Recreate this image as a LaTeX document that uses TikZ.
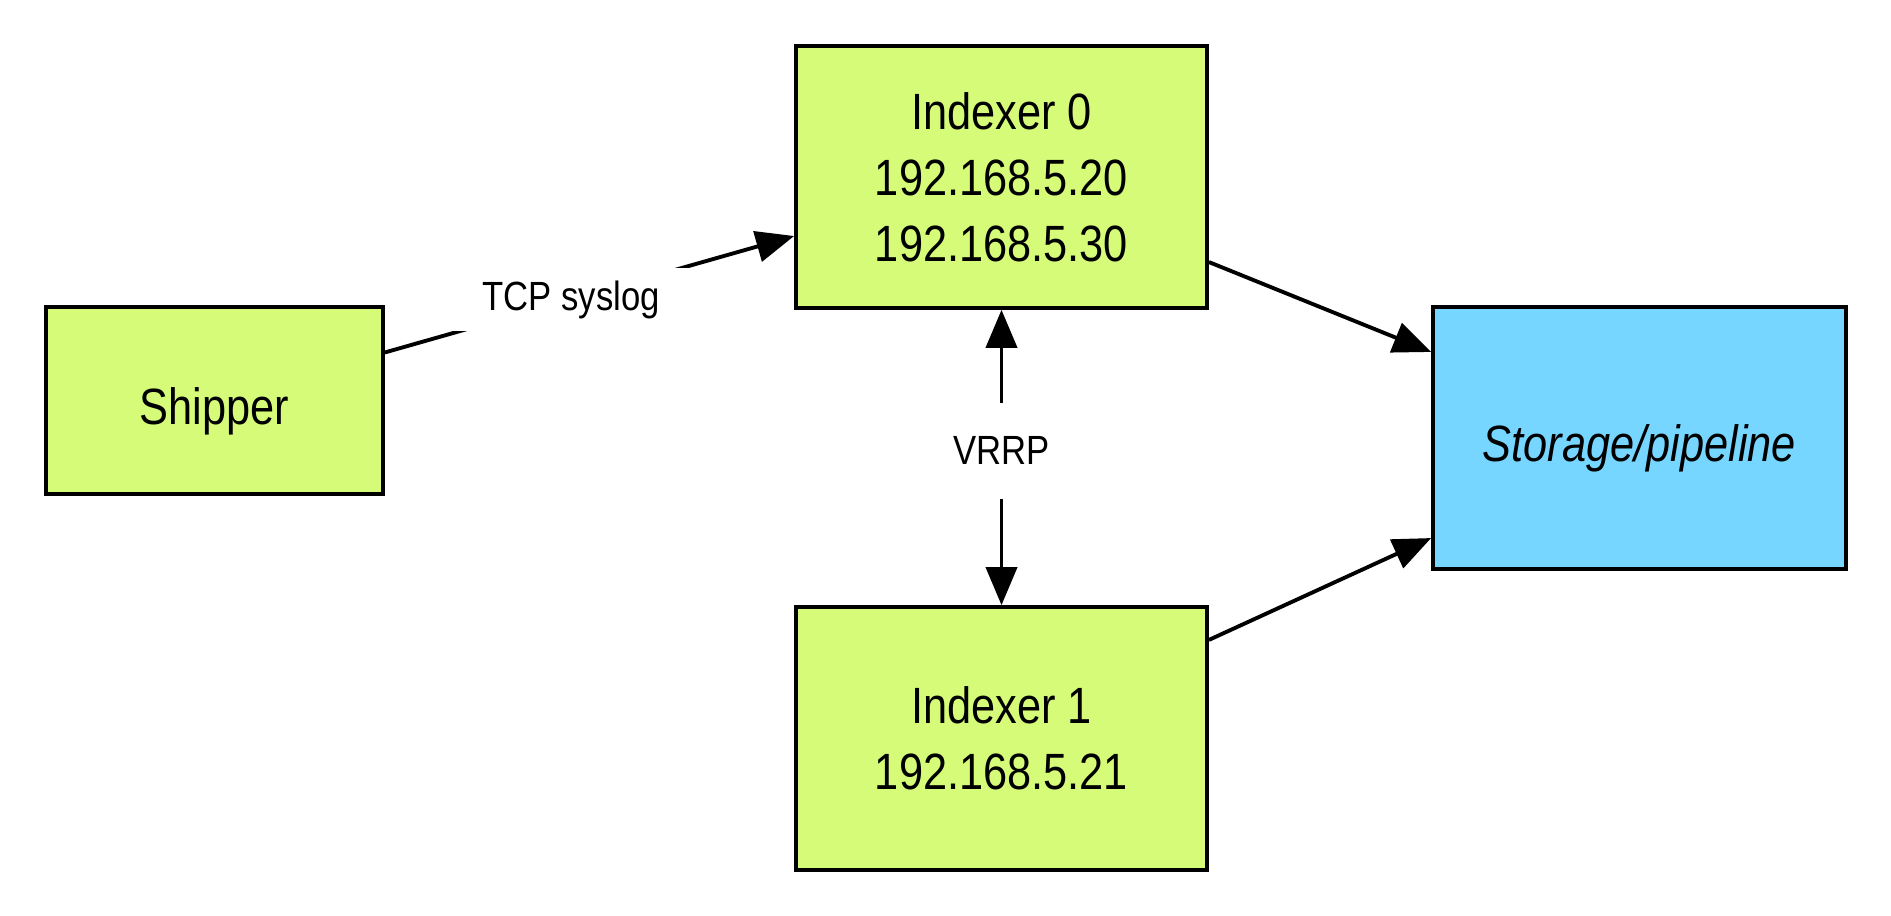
\documentclass[tikz,border=0pt]{standalone}
\usepackage{fontspec}
\setmainfont{Liberation Sans}[FakeStretch=0.85]
\usetikzlibrary{arrows.meta}
\definecolor{boxgreen}{HTML}{D5FB79}
\definecolor{boxblue}{HTML}{76D6FF}
\tikzset{
  box/.style={draw=black, line width=1.0pt, fill=boxgreen,
    font=\fontsize{14.5}{18.8}\selectfont, inner sep=0pt},
  oneline/.style={text height=0.5cm, text depth=0.03cm},
  tip/.tip={Triangle[length=0.38cm,width=0.31cm]},
  conn/.style={line width=1.1pt, -tip},
  lbl/.style={fill=white, font=\fontsize{11.6}{13}\selectfont, inner xsep=0.3cm, inner ysep=0.125cm},
}
\begin{document}
\begin{tikzpicture}[x=0.01cm,y=-0.01cm]
\useasboundingbox (0,0) rectangle (1891,916);
\node[box, oneline, minimum width=3.37cm, minimum height=1.87cm] (ship) at (214.5,400.5) {Shipper};
\node[box, align=center, minimum width=4.11cm, minimum height=2.62cm] (idx0) at (1001.5,177) {Indexer 0\\192.168.5.20\\192.168.5.30};
\node[box, align=center, minimum width=4.11cm, minimum height=2.63cm] (idx1) at (1001.5,738.5) {Indexer 1\\192.168.5.21};
\node[box, oneline, fill=boxblue, minimum width=4.13cm, minimum height=2.62cm] (stor) at (1639.5,438) {\itshape Storage/pipeline};

\draw[conn] ([yshift=0.48cm]ship.east) -- node[lbl, pos=0.455] {TCP syslog} ([yshift=-0.59cm]idx0.west);
\draw[conn] ([yshift=-0.85cm]idx0.east) -- ([yshift=0.86cm]stor.west);
\draw[conn] ([yshift=0.985cm]idx1.east) -- ([yshift=-1.0cm]stor.west);
\draw[line width=1.1pt, tip-tip]
  (idx0.south) -- node[lbl, pos=0.477, inner ysep=0.34cm] {VRRP} (idx1.north);
\end{tikzpicture}
\end{document}
